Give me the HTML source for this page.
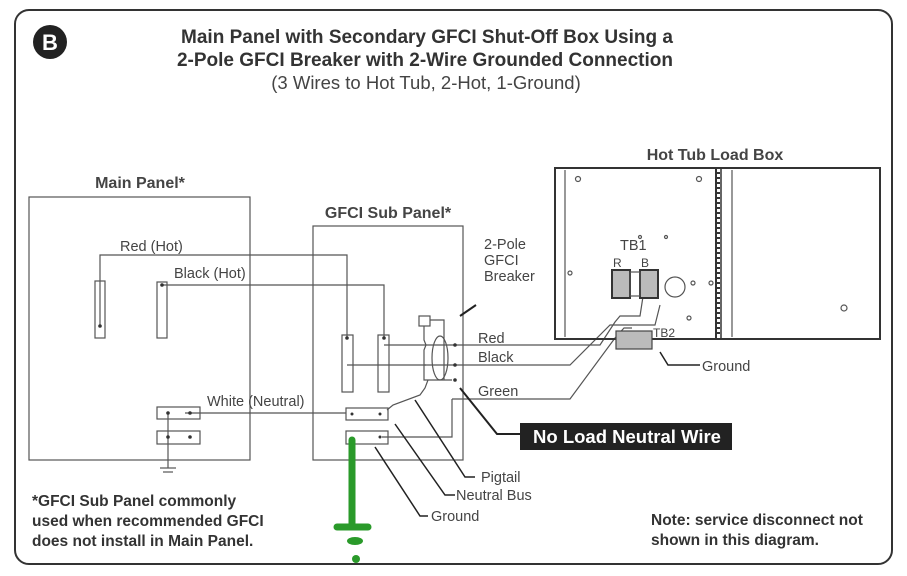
<!DOCTYPE html>
<html><head><meta charset="utf-8"><style>
html,body{margin:0;padding:0;background:#fff;}
svg{display:block;font-family:"Liberation Sans",sans-serif;}
</style></head><body>
<svg width="907" height="576" viewBox="0 0 907 576" xmlns="http://www.w3.org/2000/svg">
<rect x="15" y="10" width="877" height="554" rx="14" fill="#fff" stroke="#333" stroke-width="2"/>
<circle cx="50" cy="42" r="17" fill="#222"/>
<text x="50" y="50" font-size="22" font-weight="bold" fill="#fff" text-anchor="middle">B</text>
<text x="427" y="43" font-size="19" font-weight="bold" fill="#333" text-anchor="middle">Main Panel with Secondary GFCI Shut-Off Box Using a</text>
<text x="425" y="66" font-size="19" font-weight="bold" fill="#333" text-anchor="middle">2-Pole GFCI Breaker with 2-Wire Grounded Connection</text>
<text x="426" y="89" font-size="18.5" fill="#444" text-anchor="middle">(3 Wires to Hot Tub, 2-Hot, 1-Ground)</text>

<g fill="none" stroke="#555" stroke-width="1.2">
<rect x="29" y="197" width="221" height="263"/>
<rect x="313" y="226" width="150" height="234"/>
<rect x="95" y="281" width="10" height="57"/>
<rect x="157" y="282" width="10" height="56"/>
<rect x="342" y="335" width="11" height="57"/>
<rect x="378" y="335" width="11" height="57"/>
<rect x="157" y="407" width="43" height="12"/>
<rect x="157" y="431" width="43" height="13"/>
<rect x="346" y="408" width="42" height="12"/>
<rect x="346" y="431" width="42" height="13"/>
<polyline points="100,326 100,255 347,255 347,338"/>
<polyline points="162,285 384,285 384,338"/>
<polyline points="185,413 346,413"/>
<polyline points="168,413 168,468"/><line x1="160" y1="468" x2="176" y2="468"/><line x1="163" y1="472" x2="173" y2="472"/>
<polyline points="384,345 600,345 615,322 620,316 640,316 644,290"/>
<polyline points="347,365 570,365 610,325 655,325 660,305"/>
<polyline points="452,399 570,399 615,338 624,328 632,328"/>
<polyline points="382,437 452,437 452,399"/>
<rect x="419" y="316" width="11" height="10"/>
<polyline points="424,326 424,340 426,345 424,350 424,365 426,365"/>
<polyline points="430,320 444,320 444,380"/>
<ellipse cx="440" cy="358" rx="8" ry="22"/>
<polyline points="424,365 424,380 452,380"/>
<polyline points="387,410 393,405 420,395 425,388 428,380"/>
<rect x="555" y="168" width="325" height="171" stroke="#333" stroke-width="2"/>
<line x1="716" y1="168" x2="716" y2="339" stroke="#333" stroke-width="2"/>
<line x1="721" y1="168" x2="721" y2="339" stroke="#333" stroke-width="1.5"/>
<line x1="718.5" y1="172" x2="718.5" y2="336" stroke="#333" stroke-width="3" stroke-dasharray="2,3"/>
<line x1="565" y1="170" x2="565" y2="337"/>
<line x1="732" y1="170" x2="732" y2="337"/>
<circle cx="675" cy="287" r="10"/>
<circle cx="844" cy="308" r="3"/>
<circle cx="578" cy="179" r="2.5"/><circle cx="699" cy="179" r="2.5"/>
<circle cx="570" cy="273" r="2"/><circle cx="693" cy="283" r="2"/><circle cx="711" cy="283" r="2"/>
<circle cx="689" cy="318" r="2"/><circle cx="666" cy="237" r="1.5"/><circle cx="640" cy="237" r="1.5"/>
<rect x="612" y="270" width="18" height="28" fill="#bbb" stroke="#333" stroke-width="2"/>
<rect x="640" y="270" width="18" height="28" fill="#bbb" stroke="#333" stroke-width="2"/>
<rect x="630" y="272" width="10" height="24"/>
<rect x="616" y="331" width="36" height="18" fill="#bbb" stroke="#444"/>
<line x1="476" y1="305" x2="460" y2="316" stroke="#222" stroke-width="2"/>
<polyline points="460,388 497,434 520,434" stroke="#222" stroke-width="2"/>
<polyline points="660,352 668,365 700,365" stroke="#222" stroke-width="1.5"/>
<polyline points="415,400 465,477 475,477" stroke="#222" stroke-width="1.5"/>
<polyline points="395,424 445,495 455,495" stroke="#222" stroke-width="1.5"/>
<polyline points="375,447 420,516 428,516" stroke="#222" stroke-width="1.5"/>
</g>
<g fill="#333">
<circle cx="100" cy="326" r="1.8"/><circle cx="162" cy="285" r="1.8"/>
<circle cx="347" cy="338" r="1.8"/><circle cx="384" cy="338" r="1.8"/>
<circle cx="168" cy="413" r="1.8"/><circle cx="190" cy="413" r="1.8"/>
<circle cx="168" cy="437" r="1.8"/><circle cx="190" cy="437" r="1.8"/>
<circle cx="352" cy="414" r="1.5"/><circle cx="380" cy="414" r="1.5"/>
<circle cx="380" cy="437" r="1.5"/>
<circle cx="455" cy="345" r="1.8"/><circle cx="455" cy="365" r="1.8"/><circle cx="455" cy="380" r="1.8"/>
</g>
<line x1="352" y1="440" x2="352" y2="525" stroke="#2a9a2a" stroke-width="7" stroke-linecap="round"/>
<line x1="337" y1="527" x2="368" y2="527" stroke="#2a9a2a" stroke-width="7" stroke-linecap="round"/>
<ellipse cx="355" cy="541" rx="8" ry="4" fill="#2a9a2a"/>
<circle cx="356" cy="559" r="4" fill="#2a9a2a"/>

<rect x="520" y="423" width="212" height="27" fill="#222"/>
<text x="627" y="443" font-size="18.5" font-weight="bold" fill="#fff" text-anchor="middle">No Load Neutral Wire</text>

<g fill="#444" font-size="14.5">
<text x="140" y="188" font-weight="bold" text-anchor="middle" font-size="16">Main Panel*</text>
<text x="388" y="218" font-weight="bold" text-anchor="middle" font-size="16">GFCI Sub Panel*</text>
<text x="715" y="160" font-weight="bold" text-anchor="middle" font-size="16">Hot Tub Load Box</text>
<text x="120" y="251">Red (Hot)</text>
<text x="174" y="278">Black (Hot)</text>
<text x="207" y="406">White (Neutral)</text>
<text x="484" y="249">2-Pole</text>
<text x="484" y="265">GFCI</text>
<text x="484" y="281">Breaker</text>
<text x="478" y="343">Red</text>
<text x="478" y="362">Black</text>
<text x="478" y="396">Green</text>
<text x="620" y="250">TB1</text>
<text x="613" y="267" font-size="12">R</text>
<text x="641" y="267" font-size="12">B</text>
<text x="653" y="337" font-size="12">TB2</text>
<text x="702" y="371">Ground</text>
<text x="481" y="482">Pigtail</text>
<text x="456" y="500">Neutral Bus</text>
<text x="431" y="521">Ground</text>
</g>
<g fill="#333" font-size="15.5" font-weight="bold">
<text x="32" y="506">*GFCI Sub Panel commonly</text>
<text x="32" y="526">used when recommended GFCI</text>
<text x="32" y="546">does not install in Main Panel.</text>
<text x="651" y="525">Note: service disconnect not</text>
<text x="651" y="545">shown in this diagram.</text>
</g>
</svg>
</body></html>
